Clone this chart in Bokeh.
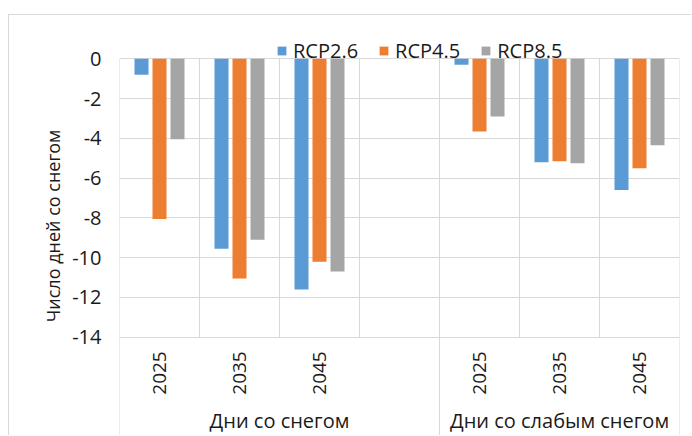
from math import pi
from bokeh.plotting import figure
from bokeh.models import (FactorRange, Range1d, FixedTicker, ColumnDataSource,
                          Legend, LegendItem, Title)
from bokeh.transform import dodge
from bokeh.core.properties import value
from bokeh.embed import file_html
from bokeh.resources import INLINE

# ---- data ----
groups = ["Дни со снегом", "Дни со слабым снегом"]
years = ["2025", "2035", "2045"]
series_names = ["RCP2.6", "RCP4.5", "RCP8.5"]
rcp26 = [-0.8, -9.55, -11.6, -0.3, -5.2, -6.6]
rcp45 = [-8.05, -11.05, -10.2, -3.65, -5.15, -5.5]
rcp85 = [-4.05, -9.1, -10.7, -2.9, -5.25, -4.35]
y_ticks = [0, -2, -4, -6, -8, -10, -12, -14]
y_title = "Число дней со снегом"

# ---- styles ----
FONT = "Open Sans"
FS = "20px"
FS_YEAR = "19px"
FS_TITLE = "18px"
TXT = "#1a1a1a"
GRID = "#d9d9d9"
colors = ["#5b9bd5", "#ed7d31", "#a5a5a5"]

# categories: each group gets its years; first group has an extra blank slot
factors = []
for gi, g in enumerate(groups):
    for yr in years:
        factors.append((g, yr))
    if gi == 0:
        factors.append((g, " "))
cats = [(g, yr) for g in groups for yr in years]

# layout constants (pixels)
W, H = 683, 421
FRAME_LEFT = 110
FRAME_RIGHT_PAD = 13
PX_PER_UNIT = 19.886
ZERO_FROM_TOP = 43.3
y_top = ZERO_FROM_TOP / PX_PER_UNIT
y_bot = -(H - ZERO_FROM_TOP) / PX_PER_UNIT
YEAR_LABEL_Y = -15.8
GROUP_LABEL_Y = -18.2

p = figure(width=W, height=H, output_backend="svg", toolbar_location=None,
           x_range=FactorRange(*factors, range_padding=0, group_padding=0,
                               factor_padding=0, subgroup_padding=0),
           y_range=Range1d(y_bot, y_top),
           x_axis_location=None,
           min_border_left=FRAME_LEFT, min_border_right=FRAME_RIGHT_PAD,
           min_border_top=0, min_border_bottom=0)
p.margin = (14, 0, 0, 8)
p.styles = {"border-left": "1px solid #d9d9d9", "border-top": "1px solid #d9d9d9"}
p.outline_line_color = None
p.background_fill_color = "white"
p.border_fill_color = "white"

# y axis
p.yaxis.ticker = FixedTicker(ticks=y_ticks)
p.yaxis.major_label_overrides = {t: str(t) for t in y_ticks}
p.yaxis.axis_line_color = None
p.yaxis.major_tick_line_color = None
p.yaxis.minor_tick_line_color = None
p.yaxis.major_tick_out = 0
p.yaxis.major_tick_in = 0
p.yaxis.major_label_standoff = 18
p.yaxis.major_label_text_font = FONT
p.yaxis.major_label_text_font_size = FS
p.yaxis.major_label_text_color = TXT
p.ygrid.ticker = FixedTicker(ticks=y_ticks)
p.ygrid.grid_line_color = GRID
p.ygrid.grid_line_width = 1
p.xgrid.grid_line_color = None

# y title
p.add_layout(Title(text=y_title, align="center", offset=38,
                   text_font=FONT, text_font_size=FS_TITLE,
                   text_font_style="normal", text_color=TXT), "left")

# vertical category separators
inner_x = []
for i, f in enumerate(factors[:-1]):
    if i == 3:
        continue
    inner_x.append((f[0], f[1], 0.5))
p.segment(x0=inner_x, x1=inner_x, y0=[y_ticks[0]] * len(inner_x),
          y1=[y_ticks[-1]] * len(inner_x), line_color=GRID, line_width=1)
outer_x = [(factors[0][0], factors[0][1], -0.5),
           (factors[4][0], factors[4][1], -0.5),
           (factors[-1][0], factors[-1][1], 0.5)]
p.segment(x0=outer_x, x1=outer_x, y0=[y_ticks[0]] * 3, y1=[y_bot] * 3,
          line_color=GRID, line_width=1)

# bars
src = ColumnDataSource(dict(cat=cats, rcp26=rcp26, rcp45=rcp45, rcp85=rcp85))
offsets = [-0.225, 0.0, 0.225]
renderers = []
for key, off, col in zip(["rcp26", "rcp45", "rcp85"], offsets, colors):
    r = p.vbar(x=dodge("cat", off, range=p.x_range), top=key, bottom=0,
               width=0.175, source=src, fill_color=col, line_color=None)
    renderers.append(r)

# category labels
lab_src = ColumnDataSource(dict(cat=cats, yr=[c[1] for c in cats],
                                y=[YEAR_LABEL_Y] * len(cats)))
p.text(x="cat", y="y", text="yr", source=lab_src, angle=pi / 2,
       text_align="center", text_baseline="middle",
       text_font=value(FONT), text_font_size=FS_YEAR, text_color=TXT)
grp_src = ColumnDataSource(dict(g=groups, y=[GROUP_LABEL_Y] * len(groups)))
p.text(x="g", y="y", text="g", source=grp_src,
       text_align="center", text_baseline="middle",
       text_font=value(FONT), text_font_size=FS, text_color=TXT)

# legend
legend = Legend(items=[LegendItem(label=n, renderers=[r])
                       for n, r in zip(series_names, renderers)],
                orientation="horizontal", location=(157, 372),
                glyph_width=11, glyph_height=11, label_standoff=6,
                spacing=20, padding=0, margin=0,
                border_line_color=None, background_fill_alpha=0,
                label_text_font=FONT, label_text_font_size=FS,
                label_text_color=TXT)
p.add_layout(legend)

open("out.html", "w").write(file_html(p, INLINE))
